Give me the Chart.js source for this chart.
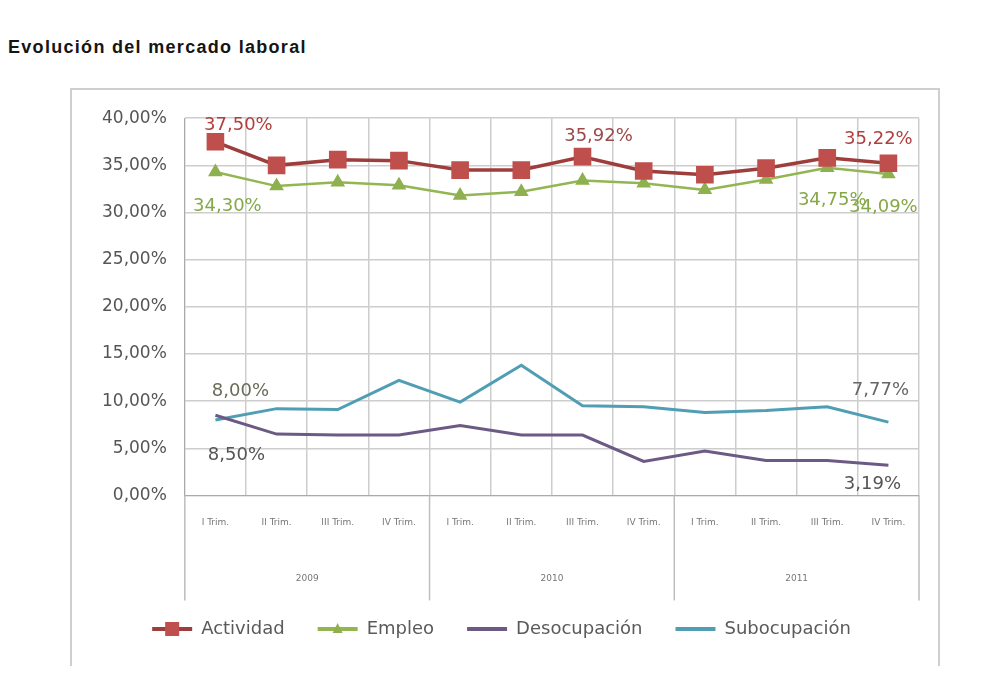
<!DOCTYPE html>
<html>
<head>
<meta charset="utf-8">
<script src="https://cdn.jsdelivr.net/npm/chart.js"></script>
<style>
body { margin:0; background:#fff; width:1000px; height:690px; position:relative; overflow:hidden; font-family:"Liberation Sans", Arial, sans-serif; }
#title { position:absolute; left:8px; top:37px; font-weight:bold; font-size:18px; color:#151515; letter-spacing:1.3px; }
#frame { position:absolute; left:70px; top:88px; width:866px; height:576px; border:2px solid #cfcfcf; border-bottom:none; }
#frame canvas { display:block; }
</style>
</head>
<body>
<div id="title">Evolución del mercado laboral</div>
<div id="frame"><canvas id="chart" width="866" height="576"></canvas></div>
<script>
const quarters = ['I Trim.', 'II Trim.', 'III Trim.', 'IV Trim.',
                  'I Trim.', 'II Trim.', 'III Trim.', 'IV Trim.',
                  'I Trim.', 'II Trim.', 'III Trim.', 'IV Trim.'];
const years = ['2009', '2010', '2011'];
const actividad    = [37.50, 35.0, 35.6, 35.5, 34.5, 34.5, 35.92, 34.4, 34.0, 34.7, 35.8, 35.22];
const empleo       = [34.30, 32.8, 33.2, 32.9, 31.8, 32.2, 33.4, 33.1, 32.4, 33.5, 34.75, 34.09];
const desocupacion = [8.50, 6.5, 6.4, 6.4, 7.4, 6.4, 6.4, 3.6, 4.7, 3.7, 3.7, 3.19];
const subocupacion = [8.00, 9.2, 9.1, 12.2, 9.9, 13.8, 9.5, 9.4, 8.8, 9.0, 9.4, 7.77];

function pct(v) {
    return v.toFixed(2).replace('.', ',') + '%';
}

// value labels: dataset, point, offset from the point, colour
const notes = [
    { ds: 0, i: 0, dx: 23, dy: -16, color: '#b0403e' },
    { ds: 1, i: 0, dx: 12, dy: 34, color: '#86a848' },
    { ds: 0, i: 6, dx: 16, dy: -20, color: '#9a4a48' },
    { ds: 0, i: 11, dx: -10, dy: -24, color: '#b0403e' },
    { ds: 1, i: 10, dx: 5, dy: 33, color: '#86a848' },
    { ds: 1, i: 11, dx: -5, dy: 33, color: '#86a848' },
    { ds: 3, i: 0, dx: 25, dy: -29, color: '#6b6b5a' },
    { ds: 2, i: 0, dx: 21, dy: 40, color: '#555' },
    { ds: 3, i: 11, dx: -8, dy: -32, color: '#666' },
    { ds: 2, i: 11, dx: -16, dy: 19, color: '#555' }
];

const extras = {
    id: 'extras',
    afterDraw(chart) {
        const ctx = chart.ctx;
        const x = chart.scales.x;
        const area = chart.chartArea;
        ctx.save();

        // year separators under the plot
        ctx.strokeStyle = '#bdbdbd';
        ctx.lineWidth = 1.5;
        const bounds = [area.left, (x.getPixelForValue(3) + x.getPixelForValue(4)) / 2,
                        (x.getPixelForValue(7) + x.getPixelForValue(8)) / 2, area.right];
        bounds.forEach(b => {
            ctx.beginPath();
            ctx.moveTo(b, area.bottom);
            ctx.lineTo(b, area.bottom + 105);
            ctx.stroke();
        });

        // value labels
        ctx.font = '18px "DejaVu Sans"';
        ctx.textAlign = 'center';
        ctx.textBaseline = 'middle';
        notes.forEach(n => {
            const pt = chart.getDatasetMeta(n.ds).data[n.i];
            const v = chart.data.datasets[n.ds].data[n.i];
            ctx.fillStyle = n.color;
            ctx.fillText(pct(v), pt.x + n.dx, pt.y + n.dy);
        });

        // markers on the legend lines
        const legend = chart.legend;
        legend.legendHitBoxes.forEach((box, k) => {
            const ds = chart.data.datasets[k];
            const cx = box.left + legend.options.labels.boxWidth / 2;
            const cy = box.top + box.height / 2;
            ctx.fillStyle = ds.pointBackgroundColor;
            if (ds.pointStyle === 'rect') {
                ctx.fillRect(cx - 7, cy - 7, 14, 14);
            } else if (ds.pointStyle === 'triangle') {
                ctx.beginPath();
                ctx.moveTo(cx, cy - 6);
                ctx.lineTo(cx + 5, cy + 4);
                ctx.lineTo(cx - 5, cy + 4);
                ctx.closePath();
                ctx.fill();
            }
        });
        ctx.restore();
    }
};

const ctx = document.getElementById('chart').getContext('2d');
const chart = new Chart(ctx, {
    type: 'line',
    data: {
        labels: quarters,
        datasets: [
            {
                label: 'Actividad',
                data: actividad,
                borderColor: '#9e3e3c',
                backgroundColor: '#9e3e3c',
                pointBackgroundColor: '#bf4f4c',
                pointBorderColor: '#bf4f4c',
                pointStyle: 'rect',
                pointRadius: 10,
                borderWidth: 3.5
            },
            {
                label: 'Empleo',
                data: empleo,
                borderColor: '#93b552',
                backgroundColor: '#93b552',
                pointBackgroundColor: '#8fb04e',
                pointBorderColor: '#8fb04e',
                pointStyle: 'triangle',
                pointRadius: 6,
                borderWidth: 2.5
            },
            {
                label: 'Desocupación',
                data: desocupacion,
                borderColor: '#6c5a84',
                backgroundColor: '#6c5a84',
                pointRadius: 0,
                borderWidth: 3
            },
            {
                label: 'Subocupación',
                data: subocupacion,
                borderColor: '#4f9eb3',
                backgroundColor: '#4f9eb3',
                pointRadius: 0,
                borderWidth: 3
            }
        ]
    },
    options: {
        responsive: false,
        animation: false,
        layout: { padding: { left: 12, right: 19, top: 20, bottom: 18 } },
        plugins: {
            tooltip: { enabled: false },
            legend: {
                position: 'bottom',
                labels: {
                    boxWidth: 40,
                    boxHeight: 4,
                    padding: 33,
                    color: '#5a5a5a',
                    font: { family: '"DejaVu Sans"', size: 18 },
                    generateLabels(c) {
                        return Chart.defaults.plugins.legend.labels.generateLabels(c)
                            .map(l => ({ ...l, lineWidth: 0, fillStyle: l.strokeStyle }));
                    }
                }
            }
        },
        scales: {
            x: {
                type: 'category',
                offset: true,
                grid: { offset: true, color: '#cdcdcd', lineWidth: 1.5, drawTicks: false },
                border: { color: '#aaa' },
                ticks: {
                    autoSkip: false,
                    maxRotation: 0,
                    padding: 22,
                    color: '#777',
                    font: { family: '"DejaVu Sans"', size: 9 }
                }
            },
            x2: {
                type: 'category',
                labels: years,
                offset: true,
                position: 'bottom',
                grid: { display: false, drawTicks: false },
                border: { display: false },
                ticks: {
                    padding: 23,
                    color: '#777',
                    font: { family: '"DejaVu Sans"', size: 9 }
                },
                afterFit(s) { s.height -= 20; }
            },
            y: {
                min: 0,
                max: 40,
                ticks: {
                    stepSize: 5,
                    padding: 18,
                    color: '#555',
                    font: { family: '"DejaVu Sans"', size: 17 },
                    callback: v => pct(v)
                },
                grid: { color: '#cdcdcd', lineWidth: 1.5, drawTicks: false },
                border: { color: '#aaa' }
            }
        }
    },
    plugins: [extras]
});
</script>
</body>
</html>
